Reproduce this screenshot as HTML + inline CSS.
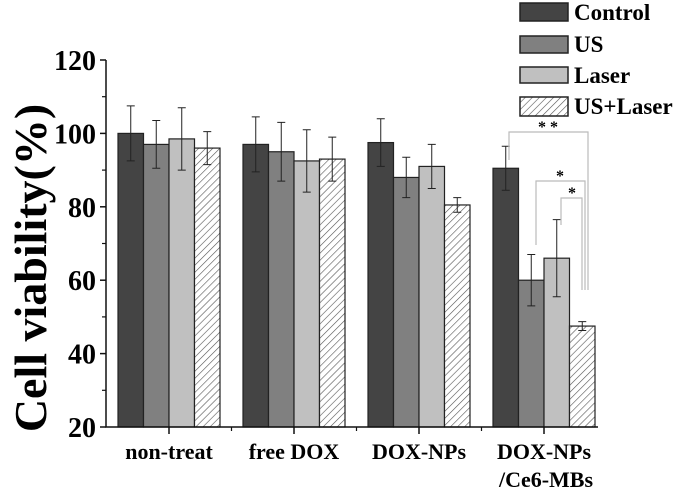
<!DOCTYPE html>
<html><head><meta charset="utf-8"><style>
body{margin:0;background:#fff}
svg text{font-family:"Liberation Serif",serif;font-weight:bold}
</style></head><body>
<svg id="chart" width="685" height="494" viewBox="0 0 685 494" xmlns="http://www.w3.org/2000/svg">
<defs>
<pattern id="hatch" width="5" height="5" patternUnits="userSpaceOnUse" patternTransform="rotate(45)">
<rect width="5" height="5" fill="#fff"/><line x1="0" y1="0" x2="0" y2="5" stroke="#555" stroke-width="1.2"/>
</pattern>
</defs>
<g id="plot"></g>
<g>
<rect x="520" y="3" width="48" height="18" fill="#444" stroke="#222" stroke-width="1.5"/>
<text x="574" y="20" font-size="23">Control</text>
<rect x="520" y="36" width="48" height="17" fill="#808080" stroke="#222" stroke-width="1.5"/>
<text x="574" y="52" font-size="23">US</text>
<rect x="520" y="67" width="48" height="16" fill="#c0c0c0" stroke="#222" stroke-width="1.5"/>
<text x="574" y="83" font-size="23">Laser</text>
<rect x="520" y="97" width="48" height="19" fill="url(#hatch)" stroke="#222" stroke-width="1.5"/>
<text x="574" y="114" font-size="23">US+Laser</text>
</g>
<g fill="none" stroke="#bbb" stroke-width="1.2">
<polyline points="509,160 509,132 588,132 588,290"/>
<polyline points="536,245 536,181 585,181 585,290"/>
<polyline points="561,225 561,198 582,198 582,290"/>
</g>
<text x="548" y="132" font-size="16" text-anchor="middle" font-weight="normal">* *</text>
<text x="560" y="181" font-size="16" text-anchor="middle" font-weight="normal">*</text>
<text x="572" y="198" font-size="16" text-anchor="middle" font-weight="normal">*</text>
<text transform="translate(46,268) rotate(-90)" font-size="46" text-anchor="middle">Cell viability(%)</text>
</svg>
<script>
const categories=["non-treat","free DOX","DOX-NPs","DOX-NPs/Ce6-MBs"];
const series=["Control","US","Laser","US+Laser"];
const controlVals=[100,97,97.5,90.5];
const usVals=[97,95,88,60];
const laserVals=[98.5,92.5,91,66];
const usLaserVals=[96,93,80.5,47.5];
const controlErr=[7.5,7.5,6.5,6];
const usErr=[6.5,8,5.5,7];
const laserErr=[8.5,8.5,6,10.5];
const usLaserErr=[4.5,6,2,1.2];
const yTicks=[20,40,60,80,100,120];

const NS="http://www.w3.org/2000/svg";
const g=document.getElementById('plot');
const y0=427,yTop=60,vMin=20,vMax=120;
const yS=v=>y0-(v-vMin)/(vMax-vMin)*(y0-yTop);
const axisX=106, groupStart=118, groupStep=125, barW=25.5;
const xS=(ci,si)=>groupStart+ci*groupStep+si*barW;
function mk(t,a){const e=document.createElementNS(NS,t);for(const k in a)e.setAttribute(k,a[k]);g.appendChild(e);return e;}
const vals=[controlVals,usVals,laserVals,usLaserVals];
const errs=[controlErr,usErr,laserErr,usLaserErr];
const fills=["#444","#808080","#c0c0c0","url(#hatch)"];
for(let c=0;c<categories.length;c++){
 for(let s=0;s<series.length;s++){
  const x=xS(c,s),v=vals[s][c],e=errs[s][c];
  const r=mk('rect',{x:x,y:yS(v),width:barW,height:y0-yS(v),fill:fills[s],stroke:'#222','stroke-width':1.2});
  
  
  const cx=x+barW/2;
  const eb=mk('path',{d:`M${cx},${yS(v-e)}V${yS(v+e)}M${cx-4},${yS(v+e)}H${cx+4}M${cx-4},${yS(v-e)}H${cx+4}`,stroke:'#222','stroke-width':1,fill:'none'});
  
  
 }
}
const ax=mk('path',{d:`M${axisX},${yTop}V${y0}H${groupStart+categories.length*groupStep-20}`,stroke:'#111','stroke-width':1.5,fill:'none'});


for(const t of yTicks){
 const tk=mk('line',{x1:axisX-6,x2:axisX,y1:yS(t),y2:yS(t),stroke:'#111','stroke-width':1.5});
 
 
 if(t<vMax){const m=mk('line',{x1:axisX-4,x2:axisX,y1:yS(t+10),y2:yS(t+10),stroke:'#111','stroke-width':1.2});
 
 }
 const tl=mk('text',{x:axisX-10,y:yS(t)+10,'font-size':28,'text-anchor':'end'});
 tl.textContent=t;
 
 
}
for(let c=0;c<categories.length;c++){
 const cx=groupStart+c*groupStep+2*barW;
 const tk=mk('line',{x1:cx,x2:cx,y1:y0,y2:y0+7,stroke:'#111','stroke-width':1.5});
 
 
 if(c<categories.length-1){const m=mk('line',{x1:cx+groupStep/2,x2:cx+groupStep/2,y1:y0,y2:y0+4,stroke:'#111','stroke-width':1.2});
 
 }
 const parts=categories[c]==="DOX-NPs/Ce6-MBs"?["DOX-NPs","/Ce6-MBs"]:[categories[c]];
 parts.forEach((p,i)=>{
  const tl=mk('text',{x:cx+(i?2:0),y:y0+32+i*28,'font-size':22,'text-anchor':'middle'});
  tl.textContent=p;
  
  
 });
}
</script>
</body></html>
